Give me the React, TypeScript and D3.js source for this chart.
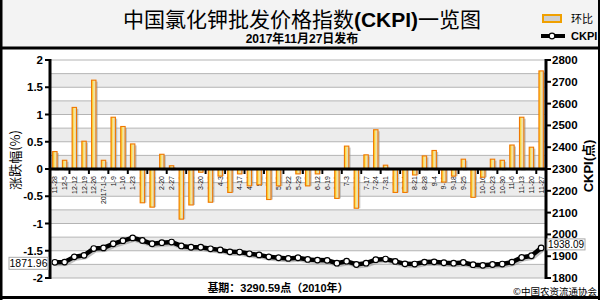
import React from "react";
import * as d3 from "d3";

const dates = ["11-28","12-5","12-12","12-19","12-26","2017-1-3","1-9","1-16","1-23","2-6","2-13","2-20","2-27","3-6","3-13","3-20","3-27","4-3","4-10","4-17","4-24","5-2","5-8","5-15","5-22","5-29","6-5","6-12","6-19","6-26","7-3","7-10","7-17","7-24","7-31","8-7","8-14","8-21","8-28","9-4","9-11","9-18","9-25","10-2","10-16","10-23","10-30","11-6","11-13","11-20","11-27"];
const changes = [0.32,0.16,1.13,0.51,1.63,0.16,0.95,0.78,0.46,-0.62,-0.70,0.27,0.06,-0.92,-0.66,-0.06,-0.61,-0.13,-0.43,-0.09,-0.31,-0.29,-0.56,-0.31,0,-0.09,-0.31,-0.09,0,-0.54,0.42,-0.72,0.26,0.72,0.07,-0.43,-0.43,-0.11,0.24,0.34,-0.24,-0.13,0.18,-0.52,-0.15,0.18,0.16,0.44,0.95,0.40,1.80];
const ckpi = [1871.96,1873,1897,1904,1935,1938,1957,1971,1984,1972,1957,1962,1965,1947,1941,1941,1934,1929,1920,1919,1911,1906,1897,1893,1890,1893,1885,1882,1881,1868,1877,1862,1868,1884,1887,1876,1865,1864,1873,1874,1870,1868,1871,1861,1858,1862,1864,1873,1894,1902,1938.09];
const leftTicks = [2,1.5,1,0.5,0,-0.5,-1,-1.5,-2];
const rightTicks = [2800,2700,2600,2500,2400,2300,2200,2100,2000,1900,1800];

const FONT = "'Liberation Sans', Arial, 'Noto Sans CJK SC', sans-serif";
const CJK = "'Noto Sans CJK SC', 'Liberation Sans', sans-serif";

export default function App() {
  const L = 50, R = 546, T = 60, B = 278;
  const x = d3.scaleBand<string>().domain(dates).range([L, R]).paddingInner(0);
  const yL = d3.scaleLinear().domain([-2, 2]).range([B, T]);
  const yR = d3.scaleLinear().domain([1800, 2800]).range([B, T]);
  const cx = (d: string) => (x(d) as number) + x.bandwidth() / 2;
  const bw = 4.4;
  const bands = d3.range(-2, 2, 0.25);
  const grid = d3.range(-2, 2.01, 0.25);
  const line = d3.line<number>().x((_, i) => cx(dates[i])).y((v) => yR(v));
  const y0 = yL(0);
  const firstY = yR(ckpi[0]);
  const lastY = yR(ckpi[ckpi.length - 1]);

  return (
    <div style={{ position: "fixed", left: 0, top: 0 }}>
      <svg width={600} height={300} style={{ display: "block", fontFamily: FONT }}>
        <defs>
          <linearGradient id="barg" x1="0" x2="1" y1="0" y2="0">
            <stop offset="0" stopColor="#ffd000" />
            <stop offset="0.55" stopColor="#f6e6a0" />
            <stop offset="1" stopColor="#cfcfcf" />
          </linearGradient>
        </defs>
        <rect x={0} y={0} width={600} height={300} fill="#fff" />
        <rect x={0} y={0} width={600} height={48} fill="#f3f3f3" />
        {bands.map((b, i) => (
          <rect key={"b" + i} x={L} y={yL(b + 0.25)} width={R - L} height={yL(b) - yL(b + 0.25)}
            fill={i % 2 === 0 ? "#ececec" : "#ffffff"} />
        ))}
        {grid.map((g, i) => (
          <line key={"g" + i} x1={L} x2={R} y1={yL(g)} y2={yL(g)} stroke="#b4b4b4" strokeWidth={1} />
        ))}
        {dates.map((d) => (
          <text key={"xl" + d} transform={`translate(${cx(d) + 2.5},${y0 + 7}) rotate(-90)`}
            textAnchor="end" fontSize={7} fill="#111">{d}</text>
        ))}
        {d3.range(0, dates.length + 1, 2).map((i) => (
          <line key={"xt" + i} x1={L + i * x.bandwidth()} x2={L + i * x.bandwidth()} y1={y0} y2={y0 + 5}
            stroke="#000" strokeWidth={2} />
        ))}
        {changes.map((v, i) => {
          if (v === 0) return null;
          const yt = Math.min(yL(v), y0), h = Math.abs(yL(v) - y0);
          const xb = cx(dates[i]) - bw / 2;
          return (
            <g key={"bar" + i}>
              <rect x={xb + 1.8} y={yt + (v > 0 ? 1.5 : 0)} width={bw} height={h} fill="#9a9a9a" opacity={0.55} />
              <rect x={xb} y={yt} width={bw} height={h} fill="url(#barg)" stroke="#f07800" strokeWidth={1.1} />
            </g>
          );
        })}
        <line x1={L} x2={R} y1={y0} y2={y0} stroke="#000" strokeWidth={3} />
        <line x1={L} x2={L} y1={T - 1} y2={B + 1} stroke="#000" strokeWidth={3} />
        {leftTicks.map((t) => (
          <g key={"lt" + t}>
            <line x1={L - 5} x2={L} y1={yL(t)} y2={yL(t)} stroke="#000" strokeWidth={2} />
            <text x={L - 7} y={yL(t) + 4} textAnchor="end" fontSize={11.5} fontWeight="bold">{t}</text>
          </g>
        ))}
        <text transform={`translate(20,160) rotate(-90)`} textAnchor="middle" fontSize={13} fontFamily={CJK}>涨跌幅(%)</text>
        <line x1={R} x2={R} y1={T - 1} y2={B + 1} stroke="#000" strokeWidth={3} />
        {rightTicks.map((t) => (
          <g key={"rt" + t}>
            <line x1={R} x2={R + 5} y1={yR(t)} y2={yR(t)} stroke="#000" strokeWidth={2} />
            <text x={R + 6} y={yR(t) + 4} textAnchor="start" fontSize={11.5} fontWeight="bold">{t}</text>
          </g>
        ))}
        <text transform={`translate(593,166) rotate(-90)`} textAnchor="middle" fontSize={13} fontWeight="bold">CKPI(点)</text>
        <path d={line(ckpi) || ""} fill="none" stroke="#999" strokeWidth={4} transform="translate(1.5,2)" opacity={0.6} />
        <path d={line(ckpi) || ""} fill="none" stroke="#000" strokeWidth={4.5} />
        {ckpi.map((v, i) => (
          <circle key={"c" + i} cx={cx(dates[i])} cy={yR(v)} r={2.8} fill="#fff" stroke="#000" strokeWidth={1.2} />
        ))}
        <rect x={9} y={firstY - 5} width={39} height={12} fill="#fff" stroke="#aaa" />
        <text x={28.5} y={firstY + 5} textAnchor="middle" fontSize={10.5}>1871.96</text>
        <rect x={R + 1} y={lastY - 9} width={38} height={11} fill="#fff" stroke="#aaa" />
        <text x={R + 20} y={lastY} textAnchor="middle" fontSize={10}>1938.09</text>
        <text x={302} y={27} textAnchor="middle" fontSize={21} fontFamily={CJK}>
          中国氯化钾批发价格指数<tspan fontFamily={FONT} fontWeight="bold">(CKPI)</tspan>一览图
        </text>
        <text x={302} y={43} textAnchor="middle" fontSize={12} fontWeight="bold">2017年11月27日发布</text>
        <rect x={543} y={15} width={18} height={7} fill="#cfcfcf" stroke="#f0a000" strokeWidth={2} />
        <text x={571} y={23} fontSize={11} fontFamily={CJK}>环比</text>
        <line x1={541} x2={565} y1={36} y2={36} stroke="#000" strokeWidth={4} />
        <circle cx={552} cy={36} r={2.8} fill="#fff" stroke="#000" strokeWidth={1.2} />
        <text x={571} y={40} fontSize={11} fontWeight="bold">CKPI</text>
        <text x={278} y={292} textAnchor="middle" fontSize={11} fontWeight="bold">基期：3290.59点（2010年）</text>
        <text x={597} y={294.5} textAnchor="end" fontSize={9.5} fontFamily={CJK}>©中国农资流通协会</text>
        <line x1={0} x2={600} y1={48} y2={48} stroke="#000" strokeWidth={3} />
        <line x1={1} x2={1} y1={0} y2={300} stroke="#000" strokeWidth={3} />
        <line x1={599} x2={599} y1={0} y2={300} stroke="#000" strokeWidth={2} />
        <line x1={0} x2={600} y1={297.5} y2={297.5} stroke="#000" strokeWidth={3} />
      </svg>
    </div>
  );
}
